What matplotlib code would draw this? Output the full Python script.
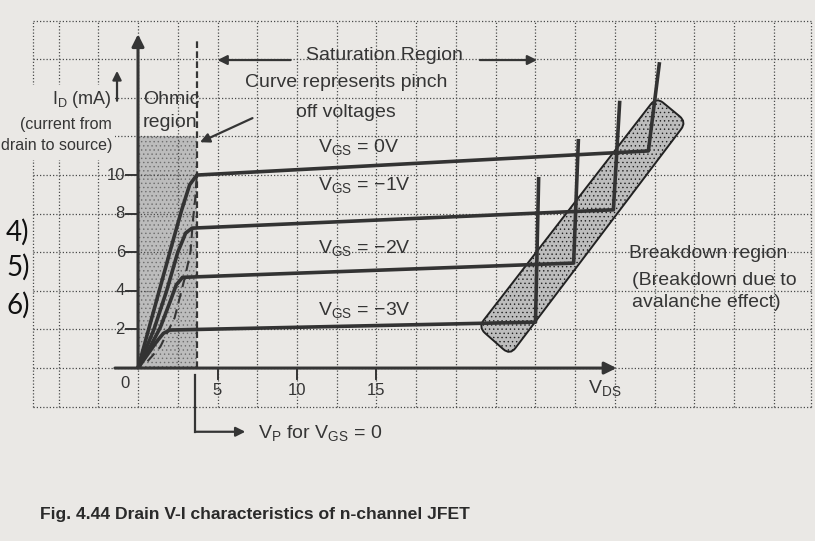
import numpy as np
import matplotlib.pyplot as plt
from matplotlib.path import Path
from matplotlib.patches import PathPatch, Rectangle

plt.rcParams['font.family'] = ['Liberation Sans', 'DejaVu Sans']
plt.rcParams['mathtext.fontset'] = 'custom'
plt.rcParams['mathtext.rm'] = 'Liberation Sans'
plt.rcParams['mathtext.it'] = 'Liberation Sans'
plt.rcParams['hatch.linewidth'] = 0.5

INK = "#353535"
PAPER = "#eae8e5"

# drain curves, one per V_GS: ohmic rise up to the knee (V_DS in V, I_D in mA)
vgs_labels = ["0V", "\u22121V", "\u22122V", "\u22123V"]
ohmic_v = [[0, 0.7, 1.4, 2.1, 2.75, 3.25, 3.7],
           [0, 1.0, 1.8, 2.5, 3.0, 3.4],
           [0, 0.7, 1.4, 2.0, 2.4, 2.8],
           [0, 0.6, 1.2, 1.6, 2.0]]
ohmic_i = [[0, 2.1, 4.2, 6.3, 8.2, 9.5, 10.0],
           [0, 2.0, 4.0, 6.0, 7.0, 7.25],
           [0, 1.0, 2.1, 3.4, 4.3, 4.7],
           [0, 0.7, 1.4, 1.8, 1.97]]
# end of the saturation stretch, then top of the breakdown rise
sat_v = [32.1, 29.9, 27.4, 25.0]
sat_i = [11.25, 8.2, 5.44, 2.38]
bd_v = [32.8, 30.3, 27.7, 25.2]
bd_i = [15.85, 13.85, 11.87, 9.9]
label_i = [11.19, 9.22, 5.96, 2.75]

# locus of the pinch-off points
pinch_v = [0.6, 1.4, 2.3, 2.95, 3.3, 3.45, 3.6, 3.7]
pinch_i = [0.35, 1.1, 2.6, 4.7, 6.0, 7.6, 8.8, 10.0]

VP = 3.7            # pinch-off voltage for V_GS = 0
OHMIC_TOP = 12.0
band_v = [21.4, 23.4, 34.5, 32.6]     # breakdown region corners
band_i = [2.12, 0.67, 12.75, 14.04]

x_ticks = [5, 10, 15]
y_ticks = [2, 4, 6, 8, 10]


def rounded_band(ax, xs, ys, r_px):
    pts = ax.transData.transform(np.column_stack([xs, ys]))
    verts, codes = [], []
    n = len(pts)
    for k in range(n):
        p, prev, nxt = pts[k], pts[k - 1], pts[(k + 1) % n]
        a = p + (prev - p) / np.linalg.norm(prev - p) * r_px
        b = p + (nxt - p) / np.linalg.norm(nxt - p) * r_px
        verts.append(a)
        codes.append(Path.MOVETO if k == 0 else Path.LINETO)
        verts += [p, b]
        codes += [Path.CURVE3, Path.CURVE3]
    verts.append(verts[0])
    codes.append(Path.CLOSEPOLY)
    return Path(ax.transData.inverted().transform(np.array(verts)), codes)


def arrow(ax, tail, head, lw=1.6, ms=14):
    ax.annotate("", xy=head, xytext=tail,
                arrowprops=dict(arrowstyle="-|>", lw=lw, color=INK,
                                mutation_scale=ms, shrinkA=0, shrinkB=0),
                zorder=6)


fig = plt.figure(figsize=(8.15, 5.41), dpi=100, facecolor=PAPER)
ax = fig.add_axes([0, 0, 1, 1])
ax.set_xlim(-8.68, 42.58)
ax.set_ylim(-8.96, 19.07)
ax.axis("off")

# dotted graph-paper grid
gx0, gx1, gy0, gy1 = -6.6, 42.3, -2, 18
grid = dict(color="#4a4a4a", lw=0.9, ls=(0, (1, 1.6)), zorder=2)
for gx in list(np.arange(-5, 41, 2.5)) + [gx0, gx1]:
    ax.plot([gx, gx], [gy0, gy1], **grid)
for gy in np.arange(gy0, gy1 + 1, 2):
    ax.plot([gx0, gx1], [gy, gy], **grid)

# blank out the grid behind the I_D caption block
ax.add_patch(Rectangle((-8.68, 10.8), 7.23, 3.85, facecolor=PAPER,
                       lw=0, zorder=2.5))

# ohmic region shading
ax.add_patch(Rectangle((0, 0), VP, OHMIC_TOP, facecolor="#bcbcbc",
                       edgecolor="#6e6e6e", hatch="....", lw=0, zorder=1))

# breakdown region
ax.add_patch(PathPatch(rounded_band(ax, band_v, band_i, 9),
                       facecolor="#bdbdbd", edgecolor="#222222",
                       hatch="....", lw=1.4, zorder=3))

# axes with arrow heads
arrow(ax, (0, 0), (0, 17.3), lw=2.2, ms=18)
arrow(ax, (-1.45, 0), (30.1, 0), lw=2.2, ms=18)
for xt in x_ticks:
    ax.plot([xt, xt], [0, -0.55], color=INK, lw=1.4, zorder=5)
    ax.text(xt, -1.15, str(xt), ha="center", va="center", fontsize=12,
            color=INK, zorder=6)
for yt in y_ticks:
    ax.plot([-0.75, 0], [yt, yt], color=INK, lw=1.4, zorder=5)
    ax.text(-0.82, yt, str(yt), ha="right", va="center", fontsize=12,
            color=INK, zorder=6)
ax.text(-0.82, -0.78, "0", ha="center", va="center", fontsize=12, color=INK)

# pinch-off line and locus
ax.plot([VP, VP], [0, 17.1], color=INK, lw=1.6, ls=(0, (3, 1.5)), zorder=4)
ax.plot(pinch_v, pinch_i, color=INK, lw=1.5, ls=(0, (5, 3)), zorder=4)

# drain characteristics
for k in range(len(vgs_labels)):
    xs = ohmic_v[k] + [sat_v[k], bd_v[k]]
    ys = ohmic_i[k] + [sat_i[k], bd_i[k]]
    ax.plot(xs, ys, color="#333333", lw=2.6, solid_joinstyle="round",
            solid_capstyle="butt", zorder=5)
    ax.text(11.3, label_i[k], r"$\mathrm{V_{GS}}$ = " + vgs_labels[k],
            fontsize=14, color=INK, va="baseline", zorder=6)

# annotations
ax.text(-1.64, 13.9, r"$\mathrm{I_D}$ (mA)", ha="right", va="center",
        fontsize=13, color=INK, zorder=6)
ax.text(-1.64, 12.64, "(current from", ha="right", va="center",
        fontsize=11.5, color=INK, zorder=6)
ax.text(-1.64, 11.55, "drain to source)", ha="right", va="center",
        fontsize=11.5, color=INK, zorder=6)
arrow(ax, (-1.32, 13.85), (-1.32, 15.4), lw=1.6, ms=13)

ax.text(0.3, 13.9, "Ohmic", va="center", fontsize=14, color=INK)
ax.text(0.3, 12.7, "region", va="center", fontsize=14, color=INK)

ax.text(15.5, 16.2, "Saturation Region", ha="center", va="center",
        fontsize=14, color=INK)
arrow(ax, (9.6, 15.96), (5.0, 15.96))
arrow(ax, (21.5, 15.96), (25.1, 15.96))

ax.text(13.1, 14.8, "Curve represents pinch", ha="center", va="center",
        fontsize=14, color=INK)
ax.text(13.1, 13.26, "off voltages", ha="center", va="center",
        fontsize=14, color=INK)
arrow(ax, (7.2, 12.95), (3.9, 11.7))

ax.text(30.9, 5.96, "Breakdown region", va="center", fontsize=14, color=INK)
ax.text(31.1, 4.56, "(Breakdown due to", va="center", fontsize=14, color=INK)
ax.text(31.1, 3.42, "avalanche effect)", va="center", fontsize=14, color=INK)

ax.text(28.3, -1.3, r"$\mathrm{V_{DS}}$", va="baseline", fontsize=14,
        color=INK)

# V_P marker below the axis
ax.plot([3.6, 3.6], [-0.36, -3.3], color=INK, lw=1.6, zorder=5)
arrow(ax, (3.6, -3.3), (6.75, -3.3), lw=1.6, ms=14)
ax.text(7.55, -3.63, r"$\mathrm{V_P}$ for $\mathrm{V_{GS}}$ = 0",
        va="baseline", fontsize=14, color=INK)

# list numbering at the left margin
for num, yy in zip(["4)", "5)", "6)"], [7.05, 5.23, 3.26]):
    ax.text(-8.3, yy, num, va="center", fontsize=20, color="#111111",
            family=["Lato", "DejaVu Sans"], zorder=6)

fig.text(40 / 815, 1 - 515 / 541,
         "Fig. 4.44 Drain V-I characteristics of n-channel JFET",
         fontsize=12.6, fontweight="bold", color="#2a2a2a", va="center")

fig.savefig("out.png", dpi=100, facecolor=PAPER)
